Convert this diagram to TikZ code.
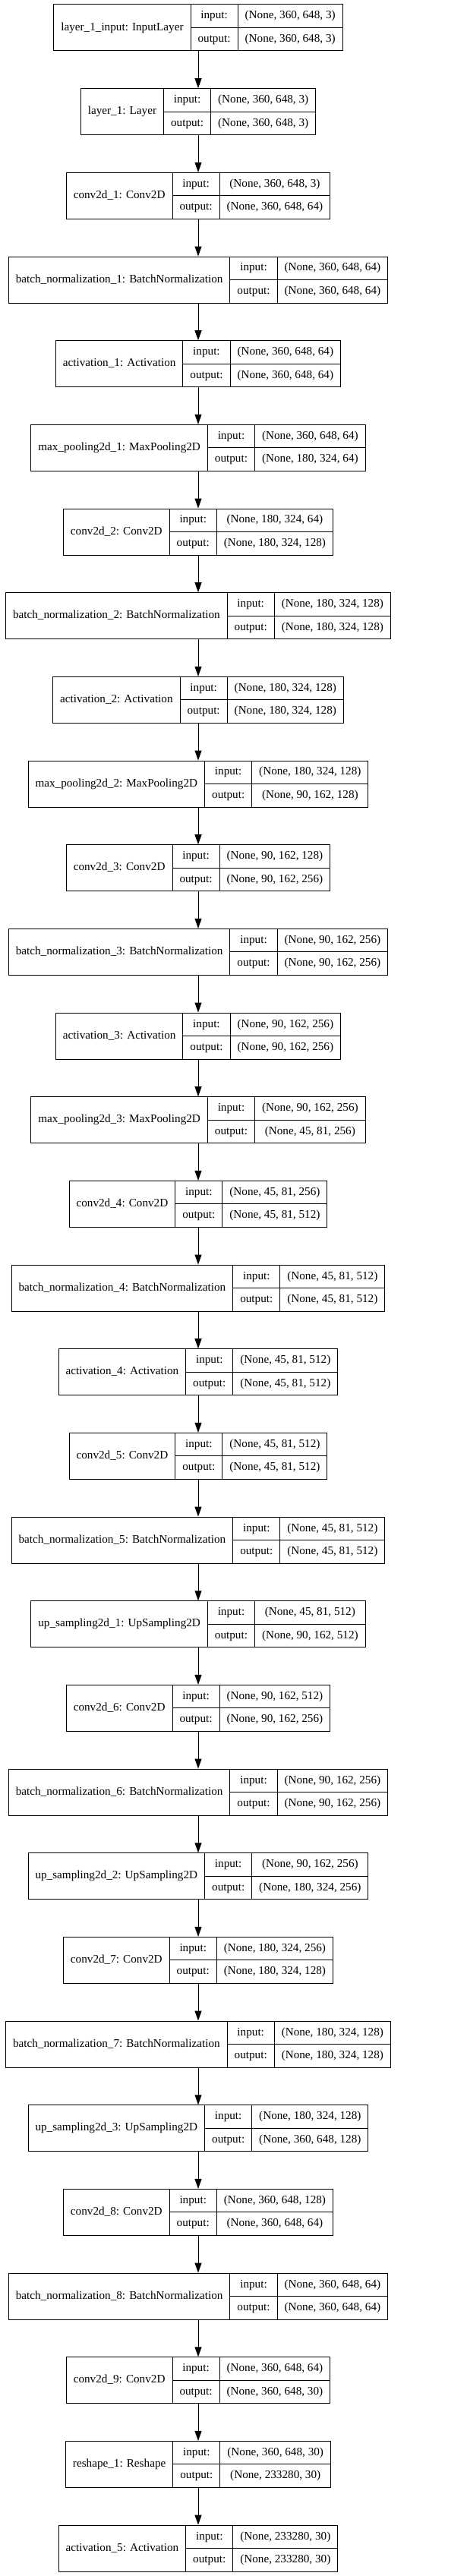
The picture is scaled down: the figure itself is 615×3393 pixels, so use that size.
\documentclass[tikz,border=0pt]{standalone}
\usepackage{fontspec}
\setmainfont{Liberation Serif}
\usetikzlibrary{arrows.meta}

\newcommand{\kfont}{\fontsize{15.2}{18}\selectfont}
\newdimen\kwlab
\newdimen\kwio
\newdimen\kwshp
\newdimen\kwtmp

\tikzset{
    kbox/.style={draw, line width=1pt, minimum height=61pt, inner sep=0pt},
    ktext/.style={font=\kfont, inner sep=0pt, text height=10.7pt, text depth=3.3pt},
    karrow/.style={line width=1pt, -{Triangle[length=13pt,width=9pt]}}
}

% #1 name, #2 row, #3 layer label, #4 input shape, #5 output shape
\newcommand{\kerasbox}[5]{%
    \pgfinterruptpicture
        \setbox0=\hbox{\kfont #3}\global\kwlab=\wd0
        \setbox0=\hbox{\kfont output:}\global\kwio=\wd0
        \setbox0=\hbox{\kfont #4}\global\kwshp=\wd0
        \setbox0=\hbox{\kfont #5}\global\kwtmp=\wd0
    \endpgfinterruptpicture
    \ifdim\kwtmp>\kwshp \kwshp=\kwtmp\fi
    \pgfmathsetmacro{\wla}{\the\kwlab}%
    \pgfmathsetmacro{\wio}{\the\kwio}%
    \pgfmathsetmacro{\wsh}{\the\kwshp}%
    \pgfmathsetmacro{\xa}{261-(\wla+\wio+\wsh+57)/2}%
    \pgfmathsetmacro{\xb}{\xa+\wla+19}%
    \pgfmathsetmacro{\xc}{\xb+\wio+19}%
    \pgfmathsetmacro{\xd}{\xc+\wsh+19}%
    \pgfmathsetmacro{\yt}{-6-#2*110.67}%
    \node[kbox, minimum width={\xd-\xa}] (#1) at (261,\yt-30.5) {};
    \draw[line width=1pt] (\xb,\yt) -- (\xb,\yt-61);
    \draw[line width=1pt] (\xc,\yt) -- (\xc,\yt-61);
    \draw[line width=1pt] (\xb,\yt-30.5) -- (\xd,\yt-30.5);
    \node[ktext] (#1-lab) at ({(\xa+\xb)/2},\yt-30.5) {#3};
    \node[ktext] (#1-in) at ({(\xb+\xc)/2},\yt-15.25) {input:};
    \node[ktext] (#1-out) at ({(\xb+\xc)/2},\yt-45.75) {output:};
    \node[ktext] (#1-inv) at ({(\xc+\xd)/2},\yt-15.25) {#4};
    \node[ktext] (#1-outv) at ({(\xc+\xd)/2},\yt-45.75) {#5};
}

\begin{document}
\begin{tikzpicture}[x=1pt, y=1pt]
    \useasboundingbox (0,0) rectangle (615,-3393);
    %encoder
    \kerasbox{input}{0}{layer\_1\_input: InputLayer}{(None, 360, 648, 3)}{(None, 360, 648, 3)}
    \kerasbox{layer1}{1}{layer\_1: Layer}{(None, 360, 648, 3)}{(None, 360, 648, 3)}
    \kerasbox{conv1}{2}{conv2d\_1: Conv2D}{(None, 360, 648, 3)}{(None, 360, 648, 64)}
    \kerasbox{bn1}{3}{batch\_normalization\_1: BatchNormalization}{(None, 360, 648, 64)}{(None, 360, 648, 64)}
    \kerasbox{act1}{4}{activation\_1: Activation}{(None, 360, 648, 64)}{(None, 360, 648, 64)}
    \kerasbox{pool1}{5}{max\_pooling2d\_1: MaxPooling2D}{(None, 360, 648, 64)}{(None, 180, 324, 64)}
    \kerasbox{conv2}{6}{conv2d\_2: Conv2D}{(None, 180, 324, 64)}{(None, 180, 324, 128)}
    \kerasbox{bn2}{7}{batch\_normalization\_2: BatchNormalization}{(None, 180, 324, 128)}{(None, 180, 324, 128)}
    \kerasbox{act2}{8}{activation\_2: Activation}{(None, 180, 324, 128)}{(None, 180, 324, 128)}
    \kerasbox{pool2}{9}{max\_pooling2d\_2: MaxPooling2D}{(None, 180, 324, 128)}{(None, 90, 162, 128)}
    \kerasbox{conv3}{10}{conv2d\_3: Conv2D}{(None, 90, 162, 128)}{(None, 90, 162, 256)}
    \kerasbox{bn3}{11}{batch\_normalization\_3: BatchNormalization}{(None, 90, 162, 256)}{(None, 90, 162, 256)}
    \kerasbox{act3}{12}{activation\_3: Activation}{(None, 90, 162, 256)}{(None, 90, 162, 256)}
    \kerasbox{pool3}{13}{max\_pooling2d\_3: MaxPooling2D}{(None, 90, 162, 256)}{(None, 45, 81, 256)}
    \kerasbox{conv4}{14}{conv2d\_4: Conv2D}{(None, 45, 81, 256)}{(None, 45, 81, 512)}
    \kerasbox{bn4}{15}{batch\_normalization\_4: BatchNormalization}{(None, 45, 81, 512)}{(None, 45, 81, 512)}
    \kerasbox{act4}{16}{activation\_4: Activation}{(None, 45, 81, 512)}{(None, 45, 81, 512)}
    %decoder
    \kerasbox{conv5}{17}{conv2d\_5: Conv2D}{(None, 45, 81, 512)}{(None, 45, 81, 512)}
    \kerasbox{bn5}{18}{batch\_normalization\_5: BatchNormalization}{(None, 45, 81, 512)}{(None, 45, 81, 512)}
    \kerasbox{up1}{19}{up\_sampling2d\_1: UpSampling2D}{(None, 45, 81, 512)}{(None, 90, 162, 512)}
    \kerasbox{conv6}{20}{conv2d\_6: Conv2D}{(None, 90, 162, 512)}{(None, 90, 162, 256)}
    \kerasbox{bn6}{21}{batch\_normalization\_6: BatchNormalization}{(None, 90, 162, 256)}{(None, 90, 162, 256)}
    \kerasbox{up2}{22}{up\_sampling2d\_2: UpSampling2D}{(None, 90, 162, 256)}{(None, 180, 324, 256)}
    \kerasbox{conv7}{23}{conv2d\_7: Conv2D}{(None, 180, 324, 256)}{(None, 180, 324, 128)}
    \kerasbox{bn7}{24}{batch\_normalization\_7: BatchNormalization}{(None, 180, 324, 128)}{(None, 180, 324, 128)}
    \kerasbox{up3}{25}{up\_sampling2d\_3: UpSampling2D}{(None, 180, 324, 128)}{(None, 360, 648, 128)}
    \kerasbox{conv8}{26}{conv2d\_8: Conv2D}{(None, 360, 648, 128)}{(None, 360, 648, 64)}
    \kerasbox{bn8}{27}{batch\_normalization\_8: BatchNormalization}{(None, 360, 648, 64)}{(None, 360, 648, 64)}
    \kerasbox{conv9}{28}{conv2d\_9: Conv2D}{(None, 360, 648, 64)}{(None, 360, 648, 30)}
    %output
    \kerasbox{reshape}{29}{reshape\_1: Reshape}{(None, 360, 648, 30)}{(None, 233280, 30)}
    \kerasbox{act5}{30}{activation\_5: Activation}{(None, 233280, 30)}{(None, 233280, 30)}
    %arrows
    \foreach \a/\b in {input/layer1, layer1/conv1, conv1/bn1, bn1/act1, act1/pool1,
        pool1/conv2, conv2/bn2, bn2/act2, act2/pool2, pool2/conv3, conv3/bn3, bn3/act3,
        act3/pool3, pool3/conv4, conv4/bn4, bn4/act4, act4/conv5, conv5/bn5, bn5/up1,
        up1/conv6, conv6/bn6, bn6/up2, up2/conv7, conv7/bn7, bn7/up3, up3/conv8,
        conv8/bn8, bn8/conv9, conv9/reshape, reshape/act5}
        \draw[karrow] (\a.south) -- (\b.north);
\end{tikzpicture}
\end{document}
